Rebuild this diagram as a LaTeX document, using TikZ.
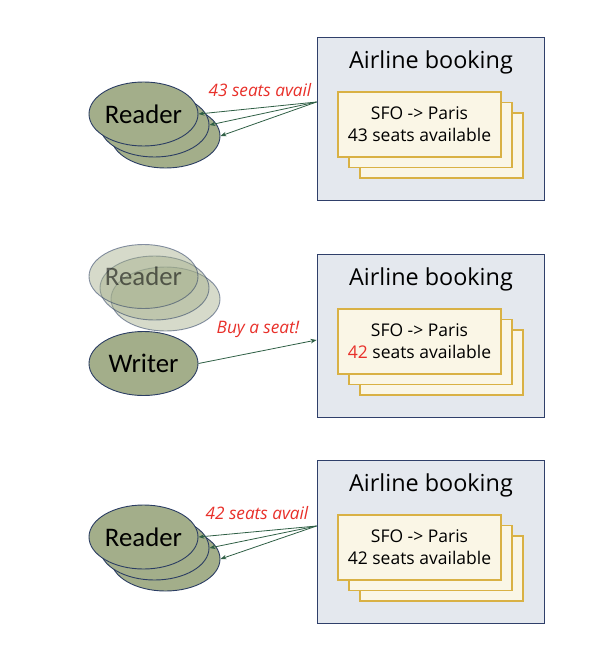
\documentclass[tikz,border=0pt]{standalone}
\usepackage{fontspec}
\setmainfont{Open Sans}
\newfontfamily\calib{Carlito}
\usetikzlibrary{arrows.meta,calc,shapes.geometric}
\definecolor{boxfill}{HTML}{E4E8EE}
\definecolor{boxline}{HTML}{2F3F6A}
\definecolor{cardfill}{HTML}{FAF6E6}
\definecolor{cardline}{HTML}{D9B144}
\definecolor{ellfill}{HTML}{A3AE8A}
\definecolor{ellline}{HTML}{2B3D63}
\definecolor{arr}{HTML}{2F5F45}
\definecolor{redtxt}{HTML}{E8302A}
\tikzset{
  panel/.style={draw=boxline, fill=boxfill, line width=0.9pt, minimum width=227pt, minimum height=163pt, inner sep=0pt},
  ptitle/.style={font=\fontsize{23.4}{28}\selectfont, inner sep=0pt},
  card/.style={draw=cardline, fill=cardfill, line width=1.1pt, minimum width=163pt, minimum height=65pt, inner sep=0pt},
  cardtext/.style={font=\fontsize{17.5}{22}\selectfont, align=center, inner sep=0pt},
  ell/.style={ellipse, draw=ellline, fill=ellfill, line width=0.9pt, minimum width=109pt, minimum height=64pt, inner sep=0pt},
  faded/.style={ell, fill opacity=0.45, draw opacity=0.55, text opacity=0.55},
  elltext/.style={font=\calib\fontsize{26.8}{32}\selectfont},
  lbl/.style={font=\itshape\fontsize{17.2}{20}\selectfont, text=redtxt, inner sep=0pt},
  conn/.style={draw=arr, line width=0.8pt, -{Stealth[length=6pt,width=4.5pt]}}
}
\begin{document}
\begin{tikzpicture}[x=1pt,y=-1pt]
\useasboundingbox (0,0) rectangle (602,658);
% ---------- panel 1 ----------
\node[panel] (box1) at (430.5,118.5) {};
\node[ptitle] (t1) at (431,62) {Airline booking};
\node[card] (c1c) at (441.5,145.5) {};
\node[card] (c1b) at (430.5,135) {};
\node[card] (c1a) at (419.5,124.5) {};
\node[cardtext] (c1t) at (419.5,124) {SFO -> Paris\\43 seats available};
\node[ell] (r1c) at (165.5,136) {};
\node[ell] (r1b) at (154.5,125) {};
\node[ell, elltext] (r1a) at (143.5,114) {Reader};
\coordinate (s1) at ($(box1.west)+(0,-16.5)$);
\draw[conn] (s1) -- (r1a.east);
\draw[conn] (s1) -- (r1b.east);
\draw[conn] (s1) -- (r1c.east);
\node[lbl] (l1) at (260,90) {43 seats avail};
% ---------- panel 2 ----------
\node[panel] (box2) at (430.5,335.5) {};
\node[ptitle] (t2) at (431,279) {Airline booking};
\node[card] (c2c) at (441.5,362.5) {};
\node[card] (c2b) at (430.5,352) {};
\node[card] (c2a) at (419.5,341.5) {};
\node[cardtext] (c2t) at (419.5,341) {SFO -> Paris\\\textcolor{redtxt}{42} seats available};
\node[faded] (f2c) at (165.5,299) {};
\node[faded] (f2b) at (154.5,288) {};
\node[faded, elltext] (f2a) at (143.5,276.5) {Reader};
\node[ell, elltext] (w2) at (143.5,363.5) {Writer};
\coordinate (s2) at ($(box2.west)+(0,4.5)$);
\draw[conn] (w2.east) -- (s2);
\node[lbl] (l2) at (258,329) {Buy a seat!};
% ---------- panel 3 ----------
\node[panel] (box3) at (430.5,541.5) {};
\node[ptitle] (t3) at (431,485) {Airline booking};
\node[card] (c3c) at (441.5,568.5) {};
\node[card] (c3b) at (430.5,558) {};
\node[card] (c3a) at (419.5,547.5) {};
\node[cardtext] (c3t) at (419.5,547) {SFO -> Paris\\42 seats available};
\node[ell] (r3c) at (165.5,559) {};
\node[ell] (r3b) at (154.5,548) {};
\node[ell, elltext] (r3a) at (143.5,537) {Reader};
\coordinate (s3) at ($(box3.west)+(0,-15.5)$);
\draw[conn] (s3) -- (r3a.east);
\draw[conn] (s3) -- (r3b.east);
\draw[conn] (s3) -- (r3c.east);
\node[lbl] (l3) at (257,513) {42 seats avail};
\end{tikzpicture}
\end{document}
